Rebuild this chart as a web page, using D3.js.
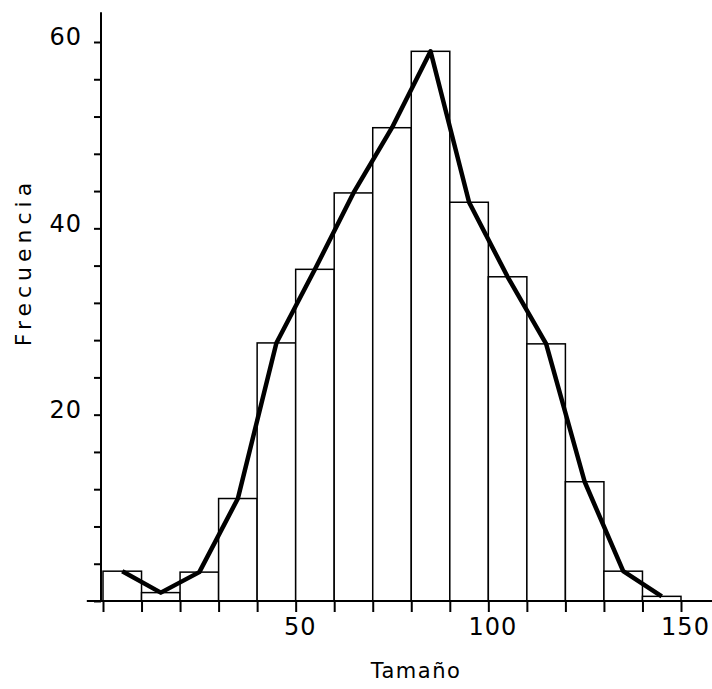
<!DOCTYPE html>
<html>
<head>
<meta charset="utf-8">
<script src="https://cdn.jsdelivr.net/npm/d3@7"></script>
<style>
  body { margin: 0; background: #fff; }
  text { font-family: "DejaVu Sans", sans-serif; fill: #000; }
</style>
</head>
<body>
<div id="chart"></div>
<script>
// bin edges (Tamaño) and frequencies
const binStarts = [0, 10, 20, 30, 40, 50, 60, 70, 80, 90, 100, 110, 120, 130, 140];
const binWidth = 10;
const freqs = [3.2, 0.9, 3.1, 11, 27.7, 35.6, 43.8, 50.8, 59, 42.8, 34.8, 27.6, 12.8, 3.2, 0.5];
const xTickValues = [0, 10, 20, 30, 40, 50, 60, 70, 80, 90, 100, 110, 120, 130, 140, 150];
const xLabelValues = [50, 100, 150];
const yTickValues = [0, 4, 8, 12, 16, 20, 24, 28, 32, 36, 40, 44, 48, 52, 56, 60];
const yLabelValues = [20, 40, 60];

const W = 712, H = 689;
const svg = d3.select("#chart").append("svg")
    .attr("width", W)
    .attr("height", H);

const x = d3.scaleLinear().domain([0, 150]).range([103, 681]);
const y = d3.scaleLinear().domain([0, 60]).range([601, 42]);

const bins = binStarts.map((b, i) => ({ x0: b, x1: b + binWidth, v: freqs[i] }));

// histogram bars
svg.append("g")
    .selectAll("rect")
    .data(bins)
    .join("rect")
    .attr("x", d => x(d.x0))
    .attr("y", d => y(d.v))
    .attr("width", d => x(d.x1) - x(d.x0))
    .attr("height", d => y(0) - y(d.v))
    .attr("fill", "#fff")
    .attr("stroke", "#000")
    .attr("stroke-width", 1.5);

// x axis: ticks at every bin edge, labels only at 50/100/150
const xAxis = d3.axisBottom(x)
    .tickValues(xTickValues)
    .tickSize(11)
    .tickSizeOuter(0)
    .tickFormat(d => xLabelValues.includes(d) ? d : "");

const gx = svg.append("g")
    .attr("transform", `translate(0,${y(0)})`)
    .call(xAxis);
gx.select(".domain").remove();
gx.selectAll(".tick line").attr("stroke-width", 2);
gx.selectAll(".tick text")
    .attr("dx", 4)
    .attr("y", 17)
    .style("font-size", "24px")
    .style("letter-spacing", "1px");

// long baseline reaching past both ends
svg.append("line")
    .attr("x1", x(-4.2)).attr("x2", W)
    .attr("y1", y(0)).attr("y2", y(0))
    .attr("stroke", "#000")
    .attr("stroke-width", 2);

// y axis
const yAxis = d3.axisLeft(y)
    .tickValues(yTickValues)
    .tickSize(7)
    .tickSizeOuter(0)
    .tickFormat(d => yLabelValues.includes(d) ? d : "");

const gy = svg.append("g")
    .attr("transform", `translate(${x(0) - 2},0)`)
    .call(yAxis);
gy.select(".domain").remove();
gy.selectAll(".tick line").attr("stroke-width", 2);
gy.selectAll(".tick text")
    .attr("x", -19)
    .attr("dy", "0.12em")
    .style("font-size", "24px")
    .style("letter-spacing", "1px");

svg.append("line")
    .attr("x1", x(0) - 2).attr("x2", x(0) - 2)
    .attr("y1", y(0)).attr("y2", y(63.2))
    .attr("stroke", "#000")
    .attr("stroke-width", 2);

// frequency polygon through bar-top midpoints
const poly = d3.line()
    .x(d => x((d.x0 + d.x1) / 2))
    .y(d => y(d.v));

svg.append("path")
    .datum(bins)
    .attr("fill", "none")
    .attr("stroke", "#000")
    .attr("stroke-width", 4.5)
    .attr("stroke-linejoin", "round")
    .attr("d", poly);

// axis titles
svg.append("text")
    .attr("x", 416)
    .attr("y", 678)
    .attr("text-anchor", "middle")
    .style("font-size", "21px")
    .style("letter-spacing", "1.5px")
    .text("Tamaño");

svg.append("text")
    .attr("transform", "translate(31,262) rotate(-90)")
    .attr("text-anchor", "middle")
    .style("font-size", "22px")
    .style("letter-spacing", "5px")
    .text("Frecuencia");
</script>
</body>
</html>
